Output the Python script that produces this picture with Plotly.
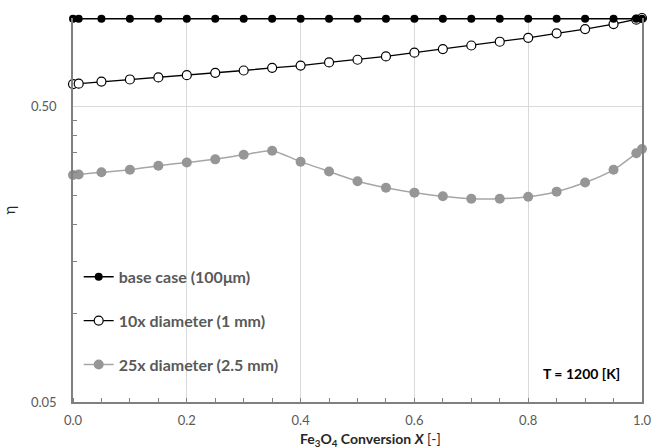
import plotly.graph_objects as go

# Fe3O4 conversion points shared by all three particle sizes
conversion = [0.0, 0.01, 0.05, 0.10, 0.15, 0.20, 0.25, 0.30, 0.35, 0.40, 0.45,
              0.50, 0.55, 0.60, 0.65, 0.70, 0.75, 0.80, 0.85, 0.90, 0.95, 0.99, 1.0]

# effectiveness factor eta for each particle diameter
eta_base = [0.995] * len(conversion)
eta_10x = [0.597, 0.599, 0.609, 0.619, 0.629, 0.640, 0.652, 0.664, 0.678, 0.690, 0.707,
           0.722, 0.741, 0.763, 0.785, 0.807, 0.831, 0.857, 0.887, 0.917, 0.954, 0.987, 1.0]
eta_25x = [0.294, 0.295, 0.300, 0.306, 0.316, 0.324, 0.332, 0.344, 0.355, 0.326, 0.302,
           0.280, 0.266, 0.256, 0.249, 0.244, 0.244, 0.248, 0.258, 0.277, 0.306, 0.348, 0.360]

series_names = ["base case (100\u03bcm)", "10x diameter (1 mm)", "25x diameter (2.5 mm)"]

x_tick_vals = [0.0, 0.2, 0.4, 0.6, 0.8, 1.0]
x_tick_text = ["0.0", "0.2", "0.4", "0.6", "0.8", "1.0"]
y_tick_vals = [0.05, 0.5]
y_tick_text = ["0.05", "0.50"]
y_minor_vals = [0.10, 0.15, 0.20, 0.25, 0.30, 0.35, 0.40, 0.45]

FONT = "Lato"
TXT = "#595959"
AXIS = "#808080"

fig = go.Figure()

# gray curve first so the black curves sit on top of it
fig.add_trace(go.Scatter(
    x=conversion, y=eta_25x, name=series_names[2], mode="lines+markers",
    line=dict(color="#a6a6a6", width=1.5, shape="spline", smoothing=0.6),
    marker=dict(color="#969696", size=10, line=dict(width=0)),
    legendgroup="c", legendrank=3, cliponaxis=False,
))
fig.add_trace(go.Scatter(
    x=conversion, y=eta_10x, name=series_names[1], mode="lines+markers",
    line=dict(color="#000000", width=1.3),
    marker=dict(color="#ffffff", size=9, line=dict(color="#000000", width=1.2)),
    legendgroup="b", legendrank=2, cliponaxis=False,
))
fig.add_trace(go.Scatter(
    x=conversion, y=eta_base, name=series_names[0], mode="lines+markers",
    line=dict(color="#000000", width=1.5),
    marker=dict(color="#000000", size=8, line=dict(width=0)),
    legendgroup="a", legendrank=1, cliponaxis=False,
))

fig.update_xaxes(
    range=[0, 1], tickvals=x_tick_vals, ticktext=x_tick_text, ticks="",
    showgrid=True, gridcolor="#d9d9d9", gridwidth=1,
    showline=True, linecolor=AXIS, linewidth=1.5, mirror=False,
    zeroline=False, ticklabelstandoff=6, automargin=False,
    tickfont=dict(family=FONT, size=13, color=TXT),
    minor=dict(dtick=0.05, tick0=0, ticks="inside", ticklen=4,
               tickcolor=AXIS, tickwidth=1, showgrid=False),
)
fig.update_yaxes(
    type="log", range=[-1.30103, 0.0],
    tickvals=y_tick_vals, ticktext=y_tick_text, ticks="",
    showgrid=True, gridcolor="#d9d9d9", gridwidth=1,
    showline=True, linecolor=AXIS, linewidth=1.5, mirror=True,
    zeroline=False, ticklabelstandoff=12, automargin=False,
    tickfont=dict(family=FONT, size=13, color=TXT),
    title=dict(text="\u03b7", font=dict(family=FONT, size=15, color="#262626"), standoff=20),
    minor=dict(tickmode="array", tickvals=y_minor_vals, ticks="inside", ticklen=4,
               tickcolor=AXIS, tickwidth=1, showgrid=False),
)

fig.add_annotation(
    text="<b>Fe<sub>3</sub>O<sub>4</sub> Conversion <i>X</i></b> [-]",
    xref="paper", yref="paper", x=0.522, y=-0.097, xanchor="center", yanchor="middle",
    showarrow=False, font=dict(family=FONT, size=14, color="#262626"),
)
fig.add_annotation(
    text="<b>T = 1200 [K]</b>",
    xref="paper", yref="paper", x=0.964, y=0.075, xanchor="right", yanchor="middle",
    showarrow=False, font=dict(family=FONT, size=14, color="#000000"),
)

fig.update_layout(
    width=652, height=448,
    margin=dict(l=73, r=10, t=18, b=46, autoexpand=False),
    paper_bgcolor="white", plot_bgcolor="white",
    showlegend=True,
    legend=dict(
        x=0.01, y=0.37, xanchor="left", yanchor="top",
        bgcolor="rgba(0,0,0,0)", itemwidth=30, tracegroupgap=20,
        font=dict(family=FONT, size=16, color=TXT, weight="bold"),
        traceorder="grouped",
    ),
)

fig.write_html("out.html")
